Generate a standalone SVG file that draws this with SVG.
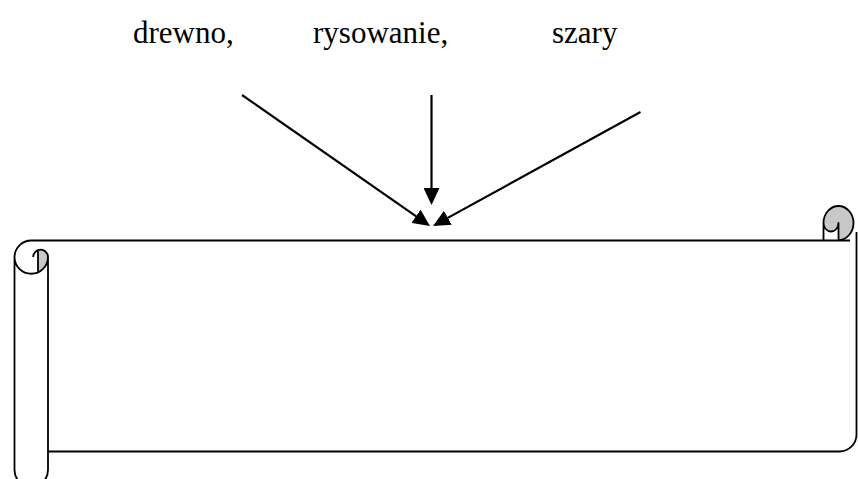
<svg xmlns="http://www.w3.org/2000/svg" width="858" height="479" viewBox="0 0 858 479">
<defs>
<style>
.t{font-family:"Liberation Serif","Times New Roman",serif;font-size:31px;fill:#000}
.s{fill:none;stroke:#000;stroke-width:1.8;stroke-linecap:butt;stroke-linejoin:round}
.g{fill:#c8c8c8;stroke:none}
.a{fill:none;stroke:#000;stroke-width:2.2}
</style>
<marker id="ah" viewBox="0 0 17 16" refX="9" refY="8" markerWidth="17" markerHeight="16" markerUnits="userSpaceOnUse" orient="auto">
<path d="M0,0 L17,8 L0,16 Z" fill="#000"/>
</marker>
</defs>
<rect width="858" height="479" fill="#fff"/>
<g id="labels">
<text class="t" x="133" y="43">drewno,</text>
<text class="t" x="313" y="43">rysowanie,</text>
<text class="t" x="552" y="43">szary</text>
</g>
<g id="scroll">
<path class="s" d="M14.5,257 A16.75,16.75 0 0 1 31.25,240.5 H850 M856.5,232 V435 A17,17 0 0 1 839.5,451.5 H48"/>
<path class="g" d="M38,272.6 A16.75,16.75 0 0 0 48,257 A7.4,7.4 0 0 0 38,250 Z"/>
<path class="s" d="M14.5,257 V470 A16.75,16.75 0 0 0 48,470 V257 M48,257 A16.75,16.75 0 0 1 14.5,257 M33.2,257 A7.4,7.4 0 0 1 48,257 M38,250 V272.6"/>
<path class="g" d="M838.5,240 A15,17 0 1 0 823.5,223 A7.5,8.5 0 0 0 838.5,223 Z"/>
<path class="s" d="M823.5,240.5 V223 A15,17 0 1 1 838.5,240 M838.5,240.5 V223 A7.5,8.5 0 0 1 823.5,223"/>
</g>
<g id="connectors">
<line class="a" x1="242" y1="95" x2="423.4" y2="221.4" marker-end="url(#ah)"/>
<line class="a" x1="431.5" y1="95" x2="431.5" y2="197" marker-end="url(#ah)"/>
<line class="a" x1="640.5" y1="112" x2="440" y2="222.1" marker-end="url(#ah)"/>
</g>
</svg>
